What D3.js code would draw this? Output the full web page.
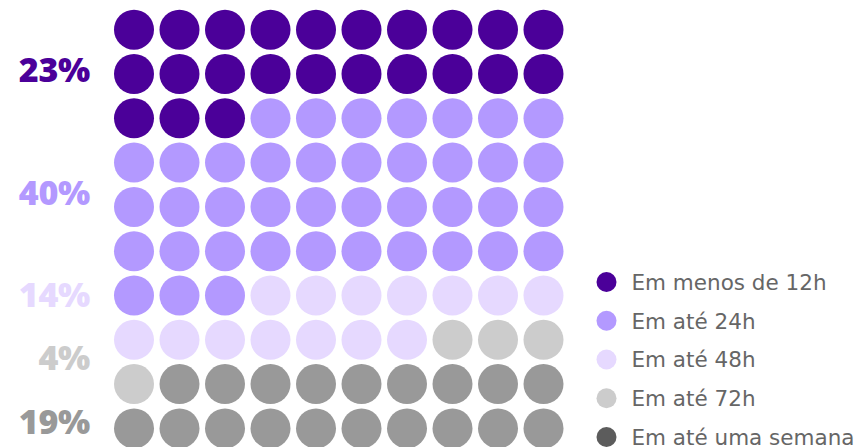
<!DOCTYPE html>
<html><head><meta charset="utf-8">
<script src="https://cdn.jsdelivr.net/npm/d3@7"></script>
<style>html,body{margin:0;padding:0;background:#fff;}svg{display:block;}</style>
</head><body>
<svg id="chart" width="866" height="447"></svg>
<script>
const categories = ["Em menos de 12h", "Em até 24h", "Em até 48h", "Em até 72h", "Em até uma semana"];
const values = [23, 40, 14, 4, 19];
const percentLabels = ["23%", "40%", "14%", "4%", "19%"];
const colors = ["#4b0099", "#b399ff", "#e6d9ff", "#cccccc", "#999999"];
const legendColors = ["#4b0099", "#b399ff", "#e6d9ff", "#cccccc", "#5c5c5c"];
const labelRows = [0.9, 3.69, 5.99, 7.41, 8.84];

const svg = d3.select("#chart");
const cols = d3.range(10), rows = d3.range(10);
const x = d3.scalePoint().domain(cols).range([134, 543.5]);
const y = d3.scalePoint().domain(rows).range([29.7, 428.4]);
const yLab = d3.scaleLinear().domain([0, 9]).range([29.7, 428.4]);

const cells = [];
let k = 0;
values.forEach((v, ci) => { for (let i = 0; i < v; i++) { cells.push({idx: k, cat: ci}); k++; } });

svg.append("g").selectAll("circle").data(cells).join("circle")
  .attr("cx", d => x(d.idx % 10))
  .attr("cy", d => y(Math.floor(d.idx / 10)))
  .attr("r", 20)
  .attr("fill", d => colors[d.cat]);

svg.append("g").selectAll("text").data(percentLabels).join("text")
  .attr("x", 90)
  .attr("y", (d, i) => yLab(labelRows[i]))
  .attr("text-anchor", "end")
  .attr("dy", "0.36em")
  .style("font-family", "'Open Sans', Lato, sans-serif")
  .style("font-weight", 800)
  .style("font-size", "34px")
  .style("letter-spacing", "-0.3px")
  .attr("fill", (d, i) => colors[i])
  .text(d => d);

const ly = d3.scalePoint().domain(categories).range([282, 437]);
const lg = svg.append("g").selectAll("g").data(categories).join("g")
  .attr("transform", d => `translate(606.5,${ly(d)})`);
lg.append("circle").attr("r", 10).attr("fill", (d, i) => legendColors[i]);
lg.append("text").attr("x", 25).attr("dy", "0.36em")
  .style("font-family", "'DejaVu Sans', Verdana, sans-serif")
  .style("font-size", "21.5px")
  .attr("fill", "#666")
  .text(d => d);
</script>
</body></html>
